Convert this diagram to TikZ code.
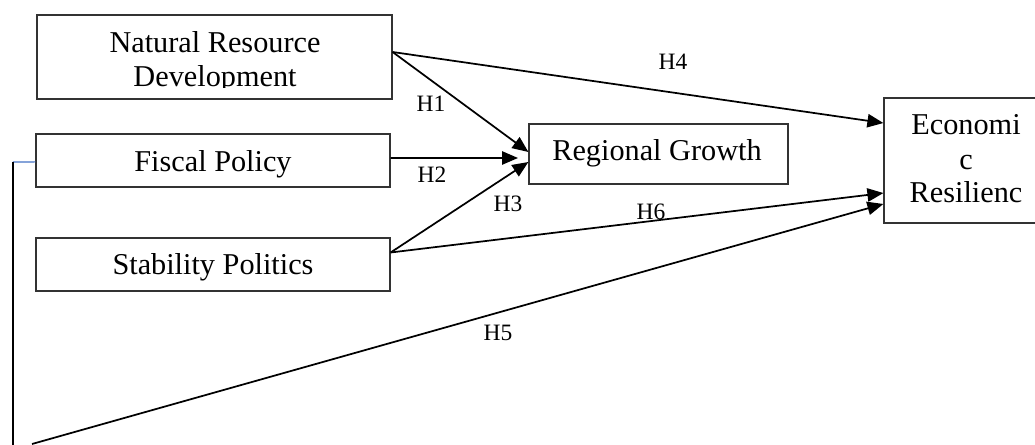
\documentclass[tikz,border=0pt]{standalone}
\usepackage{fontspec}
\setmainfont{Liberation Serif}
\usetikzlibrary{arrows.meta}
\definecolor{boxline}{HTML}{333333}
\definecolor{linkblue}{HTML}{4472C4}
\tikzset{
  varbox/.style={draw=boxline, line width=0.9pt, rectangle, inner sep=0pt},
  boxtext/.style={anchor=base, inner sep=0pt, font=\fontsize{22.7pt}{27pt}\selectfont},
  hlabel/.style={inner sep=0pt, font=\fontsize{17.6pt}{20pt}\selectfont},
  path/.style={draw=black, line width=1.3pt, -{Triangle[length=12pt,width=10pt]}},
  plain/.style={draw=black, line width=1.3pt}
}
\begin{document}
\begin{tikzpicture}[x=0.75pt,y=-0.75pt]
\useasboundingbox (0,0) rectangle (1035,445);
% boxes
\node[varbox, minimum width=266.25pt, minimum height=63pt] (nrd) at (214.5,57) {};
\node[varbox, minimum width=265.5pt, minimum height=39.75pt] (fp) at (213,160.5) {};
\node[varbox, minimum width=265.5pt, minimum height=39.75pt] (sp) at (213,264.5) {};
\node[varbox, minimum width=194.25pt, minimum height=45pt] (rg) at (658.5,154) {};
\node[varbox, minimum width=123pt, minimum height=93.75pt] (er) at (966,160.5) {};
% texts
\begin{scope}
\clip (38,16) rectangle (391,88);
\node[boxtext] (nrdt1) at (215,53) {Natural Resource};
\node[boxtext] (nrdt2) at (215,87) {Development};
\end{scope}
\node[boxtext] (fpt) at (213,172) {Fiscal Policy};
\node[boxtext] (spt) at (213,275) {Stability Politics};
\node[boxtext] (rgt) at (657,161) {Regional Growth};
\node[boxtext] (ert1) at (966,135) {Economi};
\node[boxtext] (ert2) at (966,170) {c};
\node[boxtext] (ert3) at (966,203) {Resilienc};
% coordinates
\coordinate (h2end) at (518,158);
\coordinate (corner) at (13,162);
\coordinate (bottom) at (13,445);
\coordinate (h5start) at (32,444);
% connectors
\draw[path] ([yshift=3.75pt]nrd.east) -- ([yshift=28.1pt]er.west);
\draw[path] ([yshift=3.75pt]nrd.east) -- ([yshift=1.5pt]rg.west);
\draw[path] ([yshift=1.9pt]fp.east) -- (h2end);
\draw[path] ([yshift=9pt]sp.east) -- ([yshift=-6pt]rg.west);
\draw[path] ([yshift=9pt]sp.east) -- ([yshift=-24.4pt]er.west);
\draw[path] (h5start) -- ([yshift=-32.6pt]er.west);
\draw[draw=linkblue, line width=0.8pt] ([yshift=-1.1pt]fp.west) -- (corner);
\draw[plain] (corner) -- (bottom);
% labels
\node[hlabel] (h1) at (431,104) {H1};
\node[hlabel] (h2) at (432,175) {H2};
\node[hlabel] (h3) at (508,204) {H3};
\node[hlabel] (h4) at (673,62) {H4};
\node[hlabel] (h6) at (651,212) {H6};
\node[hlabel] (h5) at (498,333) {H5};
\end{tikzpicture}
\end{document}
